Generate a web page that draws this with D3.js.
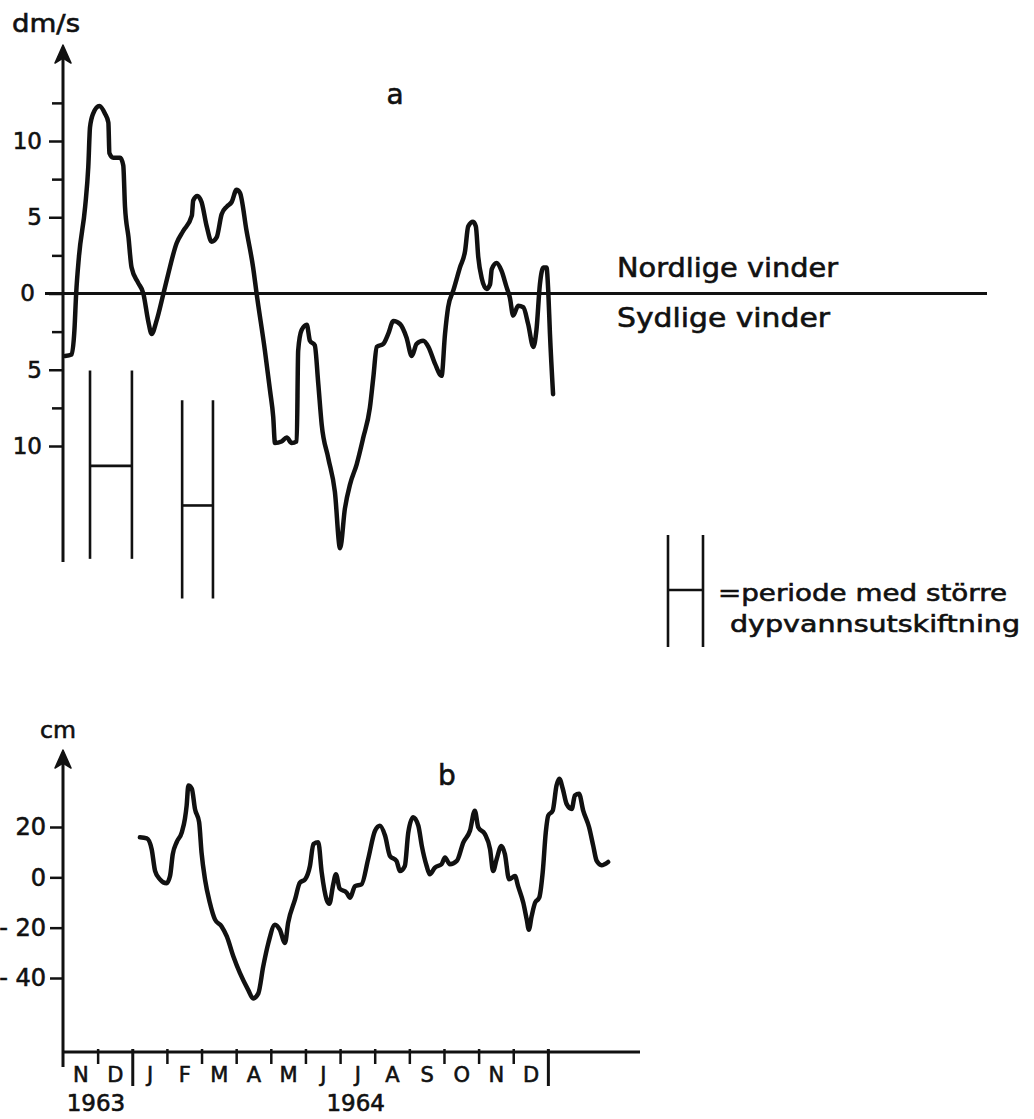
<!DOCTYPE html>
<html>
<head>
<meta charset="utf-8">
<script src="https://cdn.jsdelivr.net/npm/d3@7/dist/d3.min.js"></script>
<style>
  html, body { margin: 0; padding: 0; background: #fff; }
  svg { display: block; }
  text { font-family: "DejaVu Sans", sans-serif; fill: #111; stroke: #111; stroke-width: 0.6px; }
</style>
</head>
<body>
<svg id="chart" width="1034" height="1119"></svg>
<script>
// ---------- DATA ----------
// time in months since 1 Nov 1963
const monthLabels = ["N","D","J","F","M","A","M","J","J","A","S","O","N","D"];
const yearLabels = ["1963","1964"];
const yearLabelPos = [0.95, 8.45];

// panel a: wind component (dm/s), + = northerly, - = southerly
const windT = [0.06,0.25,0.33,0.38,0.46,0.64,0.73,0.78,0.87,1.05,1.21,1.31,1.34,1.45,1.65,1.74,1.79,1.89,1.98,2.17,2.32,2.46,2.56,2.70,2.90,3.04,3.28,3.47,3.72,3.76,3.88,4.00,4.15,4.29,4.44,4.58,4.73,4.87,5.01,5.11,5.30,5.49,5.59,5.83,5.98,6.07,6.12,6.31,6.46,6.60,6.75,6.79,6.89,7.04,7.13,7.27,7.37,7.47,7.66,7.85,8.00,8.14,8.29,8.48,8.67,8.86,8.96,9.06,9.25,9.39,9.54,9.73,9.92,10.07,10.21,10.40,10.55,10.74,10.93,11.03,11.12,11.27,11.46,11.61,11.70,11.84,11.92,11.99,12.09,12.23,12.33,12.38,12.52,12.66,12.81,12.90,13.00,13.14,13.29,13.43,13.58,13.67,13.77,13.87,13.96,14.01,14.06,14.15];
const windV = [-4.1,-4.0,-2.4,0.0,2.4,5.7,8.3,10.9,11.8,12.3,11.8,11.2,9.2,8.9,8.9,8.4,5.7,3.7,1.7,0.7,0.0,-1.8,-2.65,-1.8,0.0,1.3,3.3,4.1,5.1,6.1,6.4,6.0,4.4,3.4,3.7,5.2,5.7,6.0,6.8,6.6,4.1,1.7,0.0,-3.75,-6.4,-8.1,-9.8,-9.7,-9.45,-9.8,-9.7,-3.75,-2.4,-2.05,-3.1,-3.4,-5.9,-8.6,-10.8,-13.0,-16.7,-14.1,-12.5,-11.2,-9.45,-7.5,-5.5,-3.5,-3.3,-2.65,-1.8,-2.0,-2.9,-4.1,-3.3,-3.1,-3.5,-4.6,-5.4,-2.65,-0.9,0.2,1.7,2.8,4.4,4.7,4.4,2.4,1.0,0.3,0.6,1.6,2.0,1.5,0.4,-0.25,-1.45,-0.8,-0.9,-2.0,-3.5,-2.4,0.6,1.7,1.7,0.2,-2.65,-6.6];

// periods of major deep-water renewal (months since 1 Nov 1963)
const periodStart = [0.78, 3.44];
const periodEnd   = [1.99, 4.33];

// panel b: water level (cm)
const levelT = [2.22,2.42,2.56,2.66,2.80,2.99,3.09,3.17,3.28,3.43,3.52,3.57,3.62,3.72,3.81,3.93,4.00,4.10,4.24,4.39,4.58,4.73,4.92,5.11,5.35,5.49,5.64,5.78,5.93,6.12,6.26,6.41,6.50,6.70,6.84,6.99,7.13,7.23,7.37,7.47,7.61,7.69,7.80,7.88,7.99,8.19,8.29,8.43,8.62,8.81,9.01,9.15,9.30,9.44,9.63,9.73,9.87,9.97,10.11,10.26,10.36,10.50,10.59,10.74,10.93,11.03,11.17,11.37,11.56,11.75,11.89,11.99,12.18,12.33,12.42,12.52,12.66,12.76,12.88,13.05,13.14,13.29,13.39,13.45,13.53,13.63,13.75,13.85,13.94,14.01,14.14,14.25,14.33,14.43,14.54,14.69,14.78,14.90,15.02,15.19,15.31,15.41,15.55,15.74];
const levelV = [15.9,15.5,11.2,2.5,-0.8,-2.4,0.5,9.2,13.9,17.9,23.2,28.5,36.5,35.2,27.2,21.9,9.9,-0.8,-10.1,-16.8,-19.5,-23.5,-31.5,-38.1,-44.8,-48.1,-46.1,-35.5,-26.1,-18.8,-20.8,-26.1,-18.1,-8.8,-2.1,-0.8,4.5,13.2,13.9,1.9,-8.8,-10.5,-3.0,1.2,-4.5,-6.1,-8.1,-3.5,-2.8,7.2,18.5,20.5,16.5,8.5,6.5,2.5,4.5,17.9,23.9,20.5,12.5,4.5,1.2,3.9,5.2,7.9,5.2,6.5,13.9,18.5,26.5,19.9,17.2,11.2,2.5,7.2,12.5,9.2,-0.8,0.5,-3.5,-10.1,-16.8,-20.8,-15.5,-10.1,-8.1,1.9,17.9,24.5,26.5,36.5,39.2,35.2,29.2,27.2,32.5,33.2,26.5,19.9,12.5,6.5,4.8,6.1];

const windMajorTicks = [-10,-5,0,5,10];
const windMinorTicks = [-7.5,-2.5,2.5,7.5,12.5];
const levelTicks = [-40,-20,0,20];

// ---------- LAYOUT ----------
const svg = d3.select("#chart");
const ink = "#111";

const x = d3.scaleLinear().domain([0, 16.66]).range([63, 640]);
const yA = d3.scaleLinear().domain([-10, 10]).range([446, 141]);
const yB = d3.scaleLinear().domain([-40, 20]).range([978, 827]);

const axisX = x(0);

// ---------- PANEL A ----------
const gA = svg.append("g");

// zero line
gA.append("line")
  .attr("x1", 45).attr("x2", 987)
  .attr("y1", yA(0)).attr("y2", yA(0))
  .attr("stroke", ink).attr("stroke-width", 3);

// vertical axis with arrow
gA.append("line")
  .attr("x1", axisX).attr("x2", axisX)
  .attr("y1", 58).attr("y2", yA(-17.6))
  .attr("stroke", ink).attr("stroke-width", 3);
gA.append("path")
  .attr("d", `M${axisX},45 L${axisX-8},63 L${axisX},58 L${axisX+8},63 Z`)
  .attr("fill", ink).attr("stroke", ink).attr("stroke-width", 1.5).attr("stroke-linejoin", "round");

const majorAxis = d3.axisLeft(yA).tickValues(windMajorTicks)
  .tickSize(14).tickPadding(7).tickFormat(d => Math.abs(d));
const minorAxis = d3.axisLeft(yA).tickValues(windMinorTicks)
  .tickSize(11).tickFormat("");
const gMaj = gA.append("g").attr("transform", `translate(${axisX},0)`).call(majorAxis);
const gMin = gA.append("g").attr("transform", `translate(${axisX},0)`).call(minorAxis);
[gMaj, gMin].forEach(g => {
  g.select(".domain").remove();
  g.selectAll("line").attr("stroke", ink).attr("stroke-width", 2.5);
});
gMaj.selectAll("text")
  .style("font-family", "DejaVu Sans, sans-serif")
  .style("font-size", "23px").attr("fill", ink);
gMaj.selectAll(".tick").filter(d => d === 0).select("text").attr("dx", -7);

// wind curve
const windData = windT.map((t, i) => [t, windV[i]]);
gA.append("path")
  .datum(windData)
  .attr("d", d3.line().x(d => x(d[0])).y(d => yA(d[1])).curve(d3.curveMonotoneX))
  .attr("fill", "none").attr("stroke", ink).attr("stroke-width", 4.5)
  .attr("stroke-linejoin", "round").attr("stroke-linecap", "round");

// deep-water renewal periods (H markers)
const hTop = [-5.05, -7.0], hBot = [-17.4, -20.0], hBar = [-11.3, -13.9];
periodStart.forEach((s, i) => {
  const e = periodEnd[i];
  const g = gA.append("g").attr("stroke", ink).attr("stroke-width", 2.6);
  g.append("line").attr("x1", x(s)).attr("x2", x(s)).attr("y1", yA(hTop[i])).attr("y2", yA(hBot[i]));
  g.append("line").attr("x1", x(e)).attr("x2", x(e)).attr("y1", yA(hTop[i])).attr("y2", yA(hBot[i]));
  g.append("line").attr("x1", x(s)).attr("x2", x(e)).attr("y1", yA(hBar[i])).attr("y2", yA(hBar[i]));
});

// labels
gA.append("text").attr("x", 12).attr("y", 32).attr("textLength", 68)
  .attr("lengthAdjust", "spacingAndGlyphs").style("font-size", "24px").text("dm/s");
gA.append("text").attr("x", 395).attr("y", 104).attr("text-anchor", "middle")
  .style("font-size", "28px").text("a");
gA.append("text").attr("x", 617).attr("y", 277).attr("textLength", 221)
  .attr("lengthAdjust", "spacingAndGlyphs").style("font-size", "26px").text("Nordlige vinder");
gA.append("text").attr("x", 617).attr("y", 327).attr("textLength", 213)
  .attr("lengthAdjust", "spacingAndGlyphs").style("font-size", "26px").text("Sydlige vinder");

// legend
const lg = svg.append("g").attr("stroke", ink).attr("stroke-width", 2.6);
lg.append("line").attr("x1", 668).attr("x2", 668).attr("y1", 535).attr("y2", 647);
lg.append("line").attr("x1", 703).attr("x2", 703).attr("y1", 535).attr("y2", 647);
lg.append("line").attr("x1", 668).attr("x2", 703).attr("y1", 590).attr("y2", 590);
svg.append("text").attr("x", 718).attr("y", 601).attr("textLength", 289)
  .attr("lengthAdjust", "spacingAndGlyphs").style("font-size", "23px").text("=periode med större");
svg.append("text").attr("x", 730).attr("y", 632).attr("textLength", 290)
  .attr("lengthAdjust", "spacingAndGlyphs").style("font-size", "23px").text("dypvannsutskiftning");

// ---------- PANEL B ----------
const gB = svg.append("g");
const baseY = 1052;

gB.append("line")
  .attr("x1", axisX).attr("x2", axisX)
  .attr("y1", 763).attr("y2", 1067)
  .attr("stroke", ink).attr("stroke-width", 3);
gB.append("path")
  .attr("d", `M${axisX},750 L${axisX-8},768 L${axisX},763 L${axisX+8},768 Z`)
  .attr("fill", ink).attr("stroke", ink).attr("stroke-width", 1.5).attr("stroke-linejoin", "round");
gB.append("line")
  .attr("x1", axisX).attr("x2", x(16.66))
  .attr("y1", baseY).attr("y2", baseY)
  .attr("stroke", ink).attr("stroke-width", 3);

const levelAxis = d3.axisLeft(yB).tickValues(levelTicks)
  .tickSize(13).tickPadding(4).tickFormat(d => d < 0 ? "- " + Math.abs(d) : d);
const gLev = gB.append("g").attr("transform", `translate(${axisX},0)`).call(levelAxis);
gLev.select(".domain").remove();
gLev.selectAll("line").attr("stroke", ink).attr("stroke-width", 2.5);
gLev.selectAll("text").style("font-family", "DejaVu Sans, sans-serif")
  .style("font-size", "24px").attr("fill", ink);

// month ticks
const shortTicks = d3.range(1, 14).filter(m => m !== 2);
const longTicks = [2, 14];
const mAxis = d3.axisBottom(x).tickValues(shortTicks).tickSize(12).tickFormat("");
const gM = gB.append("g").attr("transform", `translate(0,${baseY})`).call(mAxis);
gM.select(".domain").remove();
gM.selectAll("line").attr("stroke", ink).attr("stroke-width", 2.5).attr("y1", -3);
const yAxisL = d3.axisBottom(x).tickValues(longTicks).tickSize(34).tickFormat("");
const gY = gB.append("g").attr("transform", `translate(0,${baseY})`).call(yAxisL);
gY.select(".domain").remove();
gY.selectAll("line").attr("stroke", ink).attr("stroke-width", 3).attr("y1", -3);

// month labels
const labAxis = d3.axisBottom(x).tickValues(d3.range(14).map(i => i + 0.5))
  .tickSize(0).tickPadding(15).tickFormat(d => monthLabels[Math.floor(d)]);
const gL = gB.append("g").attr("transform", `translate(0,${baseY})`).call(labAxis);
gL.select(".domain").remove();
gL.selectAll("text").style("font-family", "DejaVu Sans, sans-serif")
  .style("font-size", "21px").attr("fill", ink);

// year labels
yearLabels.forEach((y, i) => {
  gB.append("text").attr("x", x(yearLabelPos[i])).attr("y", 1111)
    .attr("text-anchor", "middle").style("font-size", "23px").text(y);
});

// level curve
const levelData = levelT.map((t, i) => [t, levelV[i]]);
gB.append("path")
  .datum(levelData)
  .attr("d", d3.line().x(d => x(d[0])).y(d => yB(d[1])).curve(d3.curveMonotoneX))
  .attr("fill", "none").attr("stroke", ink).attr("stroke-width", 4.5)
  .attr("stroke-linejoin", "round").attr("stroke-linecap", "round");

gB.append("text").attr("x", 40).attr("y", 738).attr("textLength", 36)
  .attr("lengthAdjust", "spacingAndGlyphs").style("font-size", "23px").text("cm");
gB.append("text").attr("x", 447).attr("y", 785).attr("text-anchor", "middle")
  .style("font-size", "28px").text("b");
</script>
</body>
</html>
